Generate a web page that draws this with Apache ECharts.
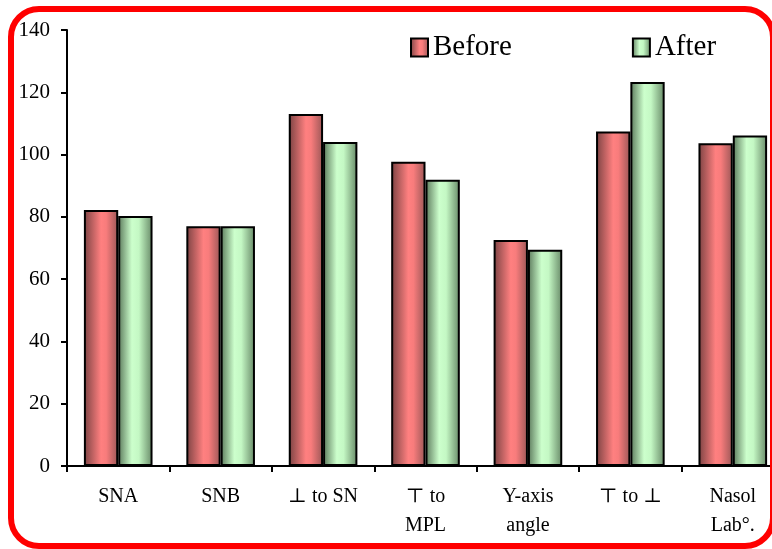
<!DOCTYPE html>
<html>
<head>
<meta charset="utf-8">
<script src="https://cdn.jsdelivr.net/npm/echarts@6/dist/echarts.min.js"></script>
<style>
html,body{margin:0;padding:0;background:#fff;}
#c{width:772px;height:549px;}
</style>
</head>
<body>
<div id="c"></div>
<script>
var categories = ['SNA', 'SNB', '\u22A5 to SN', '\u22A4 to\nMPL', 'Y-axis\nangle', '\u22A4 to \u22A5', 'Nasol\nLab\u00B0.'];
var beforeValues = [82.2, 77.0, 113.0, 97.7, 72.6, 107.4, 103.6];
var afterValues = [80.3, 77.0, 104.0, 91.9, 69.4, 123.3, 106.1];
var yTicks = { min: 0, max: 140, interval: 20 };

var serif = '"Liberation Serif", "DejaVu Serif", serif';

var redGrad = new echarts.graphic.LinearGradient(0, 0, 1, 0, [
  { offset: 0, color: '#7a4242' },
  { offset: 0.5, color: '#ff8080' },
  { offset: 0.65, color: '#f87c7c' },
  { offset: 1, color: '#9a5656' }
]);
var greenGrad = new echarts.graphic.LinearGradient(0, 0, 1, 0, [
  { offset: 0, color: '#5a785a' },
  { offset: 0.4, color: '#ccffcc' },
  { offset: 0.6, color: '#c4f8c4' },
  { offset: 1, color: '#668866' }
]);

var chart = echarts.init(document.getElementById('c'));
chart.setOption({
  animation: false,
  backgroundColor: '#fff',
  graphic: [{
    type: 'rect',
    shape: { x: 11, y: 9, width: 762, height: 537, r: 28 },
    style: { fill: 'none', stroke: '#ff0000', lineWidth: 6 },
    z: 100
  }],
  legend: {
    left: 405,
    top: 28,
    icon: 'rect',
    itemWidth: 17,
    itemHeight: 18,
    itemGap: 120,
    itemStyle: { borderColor: '#000', borderWidth: 2 },
    textStyle: { fontFamily: serif, fontSize: 29, color: '#000' },
    data: ['Before', 'After']
  },
  grid: { left: 67, top: 30, bottom: 83, right: -12, outerBoundsMode: 'none', containLabel: false },
  xAxis: {
    type: 'category',
    data: categories,
    axisLine: { lineStyle: { color: '#000', width: 2 } },
    axisTick: { show: true, length: 6, lineStyle: { color: '#000', width: 2 } },
    axisLabel: {
      interval: 0,
      margin: 16,
      verticalAlign: 'top',
      fontFamily: serif,
      fontSize: 20,
      lineHeight: 29,
      color: '#000'
    }
  },
  yAxis: {
    type: 'value',
    min: yTicks.min,
    max: yTicks.max,
    interval: yTicks.interval,
    axisLine: { show: true, lineStyle: { color: '#000', width: 2 } },
    axisTick: { show: true, length: 6, lineStyle: { color: '#000', width: 2 } },
    splitLine: { show: false },
    axisLabel: { margin: 17, fontFamily: serif, fontSize: 21, color: '#000' }
  },
  series: [
    {
      name: 'Before',
      type: 'bar',
      data: beforeValues,
      barGap: '0%',
      barCategoryGap: '33%',
      itemStyle: { color: redGrad, borderColor: '#000', borderWidth: 2 }
    },
    {
      name: 'After',
      type: 'bar',
      data: afterValues,
      itemStyle: { color: greenGrad, borderColor: '#000', borderWidth: 2 }
    }
  ]
});
</script>
</body>
</html>
